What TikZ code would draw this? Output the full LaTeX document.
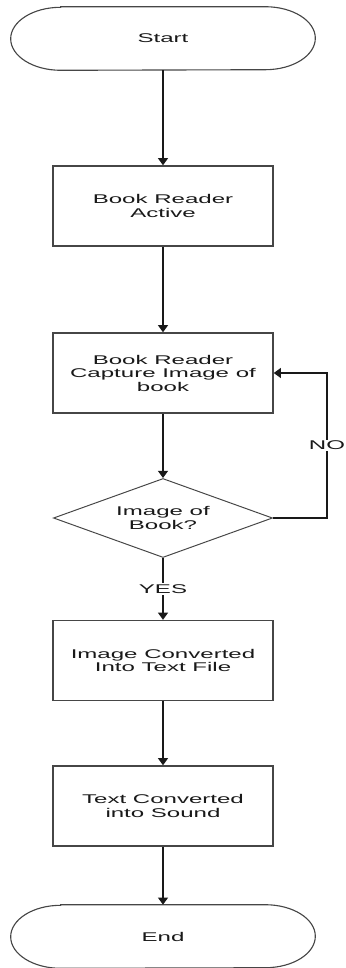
\documentclass[tikz,border=0pt]{standalone}
\usepackage{fontspec}
\setmainfont{Liberation Sans}[FakeStretch=1.9]
\usetikzlibrary{shapes.geometric, arrows.meta, calc}

\begin{document}
\begin{tikzpicture}[x=0.025cm, y=0.025cm,
  every node/.style={font=\fontsize{9}{9.6}\selectfont, text=ink, align=center},
  process/.style={draw=edge, line width=1pt, minimum width=5.5cm, minimum height=2cm, inner sep=0pt},
  decision/.style={diamond, draw=edge, line width=0.7pt, aspect=2.77, minimum width=5.475cm, minimum height=1.975cm, inner sep=0pt},
  terminal/.style={minimum width=7.6cm, minimum height=1.575cm, inner sep=0pt},
  outline/.style={draw=edge, line width=0.8pt},
  flow/.style={draw=ink, line width=1pt, -{Triangle[length=0.18cm, width=0.25cm]}},
  answer/.style={fill=white, inner sep=1pt}]

  \definecolor{ink}{RGB}{25, 25, 25}
  \definecolor{edge}{RGB}{70, 70, 70}

  \useasboundingbox (0, 0) rectangle (346, -968);

  % Terminals
  \node[terminal] (start) at (163, -38.5) {Start};
  \node[terminal] (stop)  at (163, -936.5) {End};
  \draw[outline] ($(start.north west)+(50,0)$) -- ($(start.north east)+(-50,0)$)
    arc[start angle=90, end angle=-90, x radius=50, y radius=31.5]
    -- ($(start.south west)+(50,0)$)
    arc[start angle=270, end angle=90, x radius=50, y radius=31.5] -- cycle;
  \draw[outline] ($(stop.north west)+(50,0)$) -- ($(stop.north east)+(-50,0)$)
    arc[start angle=90, end angle=-90, x radius=50, y radius=31.5]
    -- ($(stop.south west)+(50,0)$)
    arc[start angle=270, end angle=90, x radius=50, y radius=31.5] -- cycle;

  % Steps
  \node[process]  (active)  at (163, -206)   {Book Reader\\Active};
  \node[process]  (capture) at (163, -373)   {Book Reader\\Capture Image of\\book};
  \node[decision] (check)   at (163, -518)   {Image of\\Book?};
  \node[process]  (convert) at (163, -660.5) {Image Converted\\Into Text File};
  \node[process]  (sound)   at (163, -806)   {Text Converted\\into Sound};

  % Flow
  \draw[flow] (start) -- (active);
  \draw[flow] (active) -- (capture);
  \draw[flow] (capture) -- (check);
  \draw[flow] (check) -- node[answer] {YES} (convert);
  \draw[flow] (check.east) -- ++(54, 0) |- node[answer, pos=0.25] {NO} (capture.east);
  \draw[flow] (convert) -- (sound);
  \draw[flow] (sound) -- (stop);

\end{tikzpicture}
\end{document}
